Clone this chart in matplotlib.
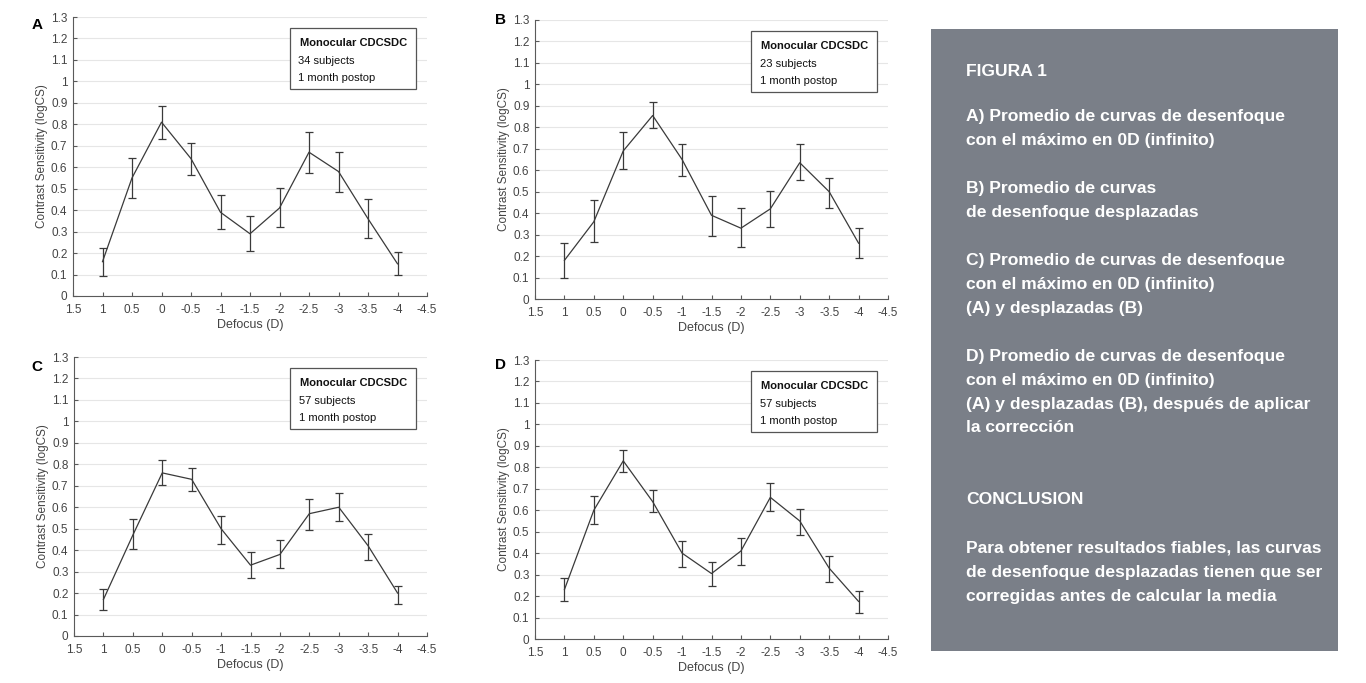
import matplotlib.pyplot as plt
import matplotlib.patches as patches

plt.rcParams['font.family'] = ['Liberation Sans', 'DejaVu Sans']

# Defocus positions (D)
defocus = [1, 0.5, 0, -0.5, -1, -1.5, -2, -2.5, -3, -3.5, -4]

# Mean contrast sensitivity and error bar ends per panel
mean_a = [0.16, 0.55, 0.81, 0.64, 0.39, 0.29, 0.41, 0.67, 0.58, 0.36, 0.15]
upper_a = [0.225, 0.645, 0.885, 0.715, 0.47, 0.375, 0.505, 0.765, 0.67, 0.45, 0.205]
lower_a = [0.095, 0.455, 0.73, 0.565, 0.31, 0.21, 0.32, 0.575, 0.485, 0.27, 0.10]

mean_b = [0.18, 0.36, 0.69, 0.855, 0.65, 0.39, 0.33, 0.42, 0.635, 0.50, 0.26]
upper_b = [0.26, 0.46, 0.78, 0.92, 0.72, 0.48, 0.425, 0.505, 0.72, 0.565, 0.33]
lower_b = [0.10, 0.265, 0.605, 0.795, 0.575, 0.295, 0.24, 0.335, 0.555, 0.425, 0.19]

mean_c = [0.17, 0.47, 0.76, 0.73, 0.50, 0.33, 0.38, 0.57, 0.60, 0.42, 0.20]
upper_c = [0.22, 0.545, 0.82, 0.785, 0.56, 0.39, 0.445, 0.64, 0.665, 0.475, 0.235]
lower_c = [0.12, 0.405, 0.705, 0.675, 0.43, 0.27, 0.315, 0.495, 0.535, 0.355, 0.15]

mean_d = [0.23, 0.60, 0.83, 0.64, 0.40, 0.305, 0.41, 0.66, 0.55, 0.33, 0.175]
upper_d = [0.285, 0.665, 0.88, 0.695, 0.455, 0.36, 0.47, 0.725, 0.605, 0.385, 0.225]
lower_d = [0.175, 0.535, 0.78, 0.59, 0.335, 0.245, 0.345, 0.595, 0.485, 0.265, 0.12]

subjects = ['34 subjects', '23 subjects', '57 subjects', '57 subjects']
panel_letters = ['A', 'B', 'C', 'D']

x_ticks = [1.5, 1, 0.5, 0, -0.5, -1, -1.5, -2, -2.5, -3, -3.5, -4, -4.5]
y_ticks = [0, 0.1, 0.2, 0.3, 0.4, 0.5, 0.6, 0.7, 0.8, 0.9, 1, 1.1, 1.2, 1.3]

W, H = 1366, 683
fig = plt.figure(figsize=(W / 100, H / 100), dpi=100)

# axes boxes in pixels: left, top, right, bottom
boxes = [
    (73, 17, 427, 296),
    (535, 20, 888, 299),
    (74, 357, 427, 636),
    (535, 360, 888, 639),
]
# panel letter centres in pixels
letter_pos = [(37, 25), (500, 20), (37, 367), (500, 365)]

data = [
    (mean_a, upper_a, lower_a),
    (mean_b, upper_b, lower_b),
    (mean_c, upper_c, lower_c),
    (mean_d, upper_d, lower_d),
]

for k, (l, t, r, b) in enumerate(boxes):
    ax = fig.add_axes([l / W, 1 - b / H, (r - l) / W, (b - t) / H])
    mean, up, lo = data[k]
    err = [[m - lw for m, lw in zip(mean, lo)], [u - m for m, u in zip(mean, up)]]
    ax.errorbar(defocus, mean, yerr=err, color='#3a3a3a', lw=0.9,
                elinewidth=0.9, capsize=3, capthick=0.9)

    ax.set_xlim(1.5, -4.5)
    ax.set_ylim(0, 1.3)
    ax.set_xticks(x_ticks)
    ax.set_xticklabels(['%g' % v for v in x_ticks])
    ax.set_yticks(y_ticks)
    ax.set_yticklabels(['%g' % v for v in y_ticks])
    ax.grid(axis='y', color='#e6e6e6', lw=0.8)
    ax.set_axisbelow(True)
    for s in ['top', 'right']:
        ax.spines[s].set_visible(False)
    for s in ['left', 'bottom']:
        ax.spines[s].set_color('#5a5a5a')
        ax.spines[s].set_linewidth(0.8)
    ax.tick_params(direction='in', length=3, width=0.8, color='#5a5a5a',
                   labelcolor='#444444', labelsize=8.5)
    ax.tick_params(axis='x', pad=6)
    ax.tick_params(axis='y', pad=4)
    ax.set_xlabel('Defocus (D)', fontsize=9, color='#444444', labelpad=2)
    ax.set_ylabel('Contrast Sensitivity (logCS)', fontsize=8.5, color='#444444', labelpad=2)

    # info box
    box = patches.Rectangle((0.613, 0.741), 0.357, 0.218, transform=ax.transAxes,
                            facecolor='white', edgecolor='#555555', lw=0.9, zorder=5)
    ax.add_patch(box)
    ax.text(0.64, 0.907, 'Monocular CDCSDC', transform=ax.transAxes, fontsize=8,
            fontweight='bold', color='#111111', va='center', zorder=6)
    ax.text(0.637, 0.844, subjects[k], transform=ax.transAxes, fontsize=8,
            color='#111111', va='center', zorder=6)
    ax.text(0.637, 0.781, '1 month postop', transform=ax.transAxes, fontsize=8,
            color='#111111', va='center', zorder=6)

    lx, ly = letter_pos[k]
    fig.text(lx / W, 1 - ly / H, panel_letters[k], fontsize=11,
             fontweight='bold', color='black', va='center', ha='center')

# gray caption panel
fig.patches.append(patches.Rectangle((931 / W, 1 - 651 / H), (1338 - 931) / W, (651 - 29) / H,
                                     transform=fig.transFigure, facecolor='#7a7f88',
                                     edgecolor='none', zorder=0))

caption = [
    (72, 'FIGURA 1'),
    (116, 'A) Promedio de curvas de desenfoque'),
    (140, 'con el máximo en 0D (infinito)'),
    (188, 'B) Promedio de curvas'),
    (212, 'de desenfoque desplazadas'),
    (260, 'C) Promedio de curvas de desenfoque'),
    (284, 'con el máximo en 0D (infinito)'),
    (308, '(A) y desplazadas (B)'),
    (356, 'D) Promedio de curvas de desenfoque'),
    (380, 'con el máximo en 0D (infinito)'),
    (404, '(A) y desplazadas (B), después de aplicar'),
    (428, 'la corrección'),
    (500, 'CONCLUSION'),
    (548, 'Para obtener resultados fiables, las curvas'),
    (572, 'de desenfoque desplazadas tienen que ser'),
    (596, 'corregidas antes de calcular la media'),
]
for y, s in caption:
    fig.text(966 / W, 1 - y / H, s, fontsize=12.6, fontweight='bold', color='white',
             va='center', ha='left')

fig.savefig('out.png', dpi=100)
